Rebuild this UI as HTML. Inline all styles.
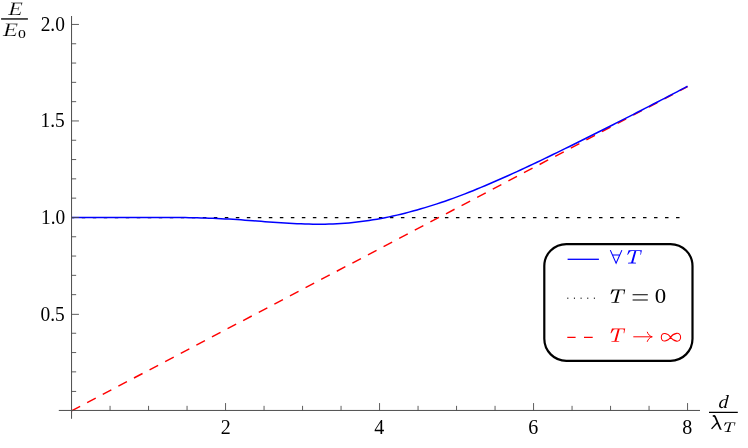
<!DOCTYPE html>
<html><head><meta charset="utf-8"><title>E/E0 vs d/lambda_T</title>
<style>
html,body{margin:0;padding:0;background:#fff;}
body{width:748px;height:448px;overflow:hidden;font-family:"Liberation Serif",serif;}
svg{display:block;}
svg text{font-family:"Liberation Serif",serif;}
</style></head><body>
<svg width="748" height="448" viewBox="0 0 748 448" style="will-change:transform">
<rect width="748" height="448" fill="#fff"/>
<!-- curves -->
<line x1="71.55" y1="217.60" x2="686.75" y2="217.60" stroke="#000" stroke-width="1.3" stroke-dasharray="3.5 7.505" stroke-dashoffset="0.8"/>
<line x1="71.55" y1="410.85" x2="687.55" y2="86.61" stroke="#ff0000" stroke-width="1.45" stroke-dasharray="9.7 7.93"/>
<path d="M71.55,217.50 L165.00,217.50 L169.00,217.51 L173.00,217.51 L177.00,217.53 L181.00,217.56 L185.00,217.60 L189.00,217.67 L193.00,217.76 L197.00,217.86 L201.00,217.96 L205.00,218.07 L209.00,218.21 L213.00,218.36 L217.00,218.52 L221.00,218.70 L225.00,218.90 L229.00,219.12 L233.00,219.35 L237.00,219.60 L241.00,219.86 L245.00,220.14 L249.00,220.43 L253.00,220.72 L257.00,221.02 L261.00,221.33 L265.00,221.63 L269.00,221.94 L273.00,222.23 L277.00,222.52 L281.00,222.79 L285.00,223.05 L289.00,223.29 L293.00,223.51 L297.00,223.70 L301.00,223.87 L305.00,224.01 L309.00,224.12 L313.00,224.19 L317.00,224.22 L321.00,224.22 L325.00,224.17 L329.00,224.08 L333.00,223.94 L337.00,223.75 L341.00,223.52 L345.00,223.23 L349.00,222.90 L353.00,222.51 L357.00,222.08 L361.00,221.60 L365.00,221.07 L369.00,220.49 L373.00,219.86 L377.00,219.18 L381.00,218.46 L385.00,217.69 L389.00,216.87 L393.00,216.01 L397.00,215.11 L401.00,214.16 L405.00,213.17 L409.00,212.13 L413.00,211.06 L417.00,209.94 L421.00,208.79 L425.00,207.61 L429.00,206.40 L433.00,205.15 L437.00,203.86 L441.00,202.54 L445.00,201.18 L449.00,199.78 L453.00,198.36 L457.00,196.90 L461.00,195.40 L465.00,193.85 L469.00,192.28 L473.00,190.68 L477.00,189.05 L481.00,187.40 L485.00,185.72 L489.00,184.01 L493.00,182.29 L497.00,180.55 L501.00,178.78 L505.00,177.00 L509.00,175.20 L513.00,173.39 L517.00,171.56 L521.00,169.72 L525.00,167.86 L529.00,165.99 L533.00,164.11 L537.00,162.22 L541.00,160.31 L545.00,158.40 L549.00,156.47 L553.00,154.54 L557.00,152.59 L561.00,150.64 L565.00,148.68 L569.00,146.71 L573.00,144.74 L577.00,142.76 L581.00,140.77 L585.00,138.78 L589.00,136.79 L593.00,134.79 L597.00,132.78 L601.00,130.78 L605.00,128.76 L609.00,126.75 L613.00,124.73 L617.00,122.70 L621.00,120.68 L625.00,118.64 L629.00,116.60 L633.00,114.56 L637.00,112.52 L641.00,110.46 L645.00,108.41 L649.00,106.35 L653.00,104.28 L657.00,102.21 L661.00,100.14 L665.00,98.06 L669.00,95.98 L673.00,93.89 L677.00,91.79 L681.00,89.69 L685.00,87.59 L687.50,86.27" fill="none" stroke="#0000ff" stroke-width="1.5" stroke-linejoin="round"/>
<!-- axes -->
<g stroke="#4d4d4d" stroke-width="1" fill="none">
<line x1="58.8" y1="410.45" x2="700" y2="410.45"/>
<line x1="71.55" y1="16" x2="71.55" y2="418.8"/>
</g>
<g stroke="#4d4d4d" stroke-width="0.9" fill="none">
<line x1="110.05" y1="410.45" x2="110.05" y2="405.85"/>
<line x1="148.55" y1="410.45" x2="148.55" y2="405.85"/>
<line x1="187.05" y1="410.45" x2="187.05" y2="405.85"/>
<line x1="225.55" y1="410.45" x2="225.55" y2="403.05"/>
<line x1="264.05" y1="410.45" x2="264.05" y2="405.85"/>
<line x1="302.55" y1="410.45" x2="302.55" y2="405.85"/>
<line x1="341.05" y1="410.45" x2="341.05" y2="405.85"/>
<line x1="379.55" y1="410.45" x2="379.55" y2="403.05"/>
<line x1="418.05" y1="410.45" x2="418.05" y2="405.85"/>
<line x1="456.55" y1="410.45" x2="456.55" y2="405.85"/>
<line x1="495.05" y1="410.45" x2="495.05" y2="405.85"/>
<line x1="533.55" y1="410.45" x2="533.55" y2="403.05"/>
<line x1="572.05" y1="410.45" x2="572.05" y2="405.85"/>
<line x1="610.55" y1="410.45" x2="610.55" y2="405.85"/>
<line x1="649.05" y1="410.45" x2="649.05" y2="405.85"/>
<line x1="687.55" y1="410.45" x2="687.55" y2="403.05"/>
<line x1="71.55" y1="391.45" x2="76.15" y2="391.45"/>
<line x1="71.55" y1="371.85" x2="76.15" y2="371.85"/>
<line x1="71.55" y1="352.55" x2="76.15" y2="352.55"/>
<line x1="71.55" y1="333.25" x2="76.15" y2="333.25"/>
<line x1="71.55" y1="314.35" x2="78.95" y2="314.35"/>
<line x1="71.55" y1="294.65" x2="76.15" y2="294.65"/>
<line x1="71.55" y1="275.35" x2="76.15" y2="275.35"/>
<line x1="71.55" y1="256.05" x2="76.15" y2="256.05"/>
<line x1="71.55" y1="236.75" x2="76.15" y2="236.75"/>
<line x1="71.55" y1="217.45" x2="78.95" y2="217.45"/>
<line x1="71.55" y1="198.15" x2="76.15" y2="198.15"/>
<line x1="71.55" y1="178.85" x2="76.15" y2="178.85"/>
<line x1="71.55" y1="159.55" x2="76.15" y2="159.55"/>
<line x1="71.55" y1="140.25" x2="76.15" y2="140.25"/>
<line x1="71.55" y1="120.95" x2="78.95" y2="120.95"/>
<line x1="71.55" y1="101.65" x2="76.15" y2="101.65"/>
<line x1="71.55" y1="82.35" x2="76.15" y2="82.35"/>
<line x1="71.55" y1="63.05" x2="76.15" y2="63.05"/>
<line x1="71.55" y1="43.75" x2="76.15" y2="43.75"/>
<line x1="71.55" y1="24.45" x2="78.95" y2="24.45"/>
</g>
<g font-size="20" fill="#000">
<text transform="translate(64.7,321) scale(0.97,1)" text-anchor="end">0.5</text>
<text transform="translate(65.3,224) scale(0.97,1)" text-anchor="end">1.0</text>
<text transform="translate(64.7,127) scale(0.97,1)" text-anchor="end">1.5</text>
<text transform="translate(64.9,31) scale(0.97,1)" text-anchor="end">2.0</text>
<text x="225.65" y="434" text-anchor="middle">2</text>
<text x="379.15" y="434" text-anchor="middle">4</text>
<text x="533.15" y="434" text-anchor="middle">6</text>
<text x="687.15" y="434" text-anchor="middle">8</text>
</g>
<!-- legend -->
<rect x="544.3" y="244.1" width="148.2" height="116.7" rx="22" ry="22" fill="#fff" stroke="#000" stroke-width="2.2"/>
<line x1="567.6" y1="259.3" x2="598.9" y2="259.3" stroke="#0000ff" stroke-width="1.3"/>
<path d="M610.3,250.1 L616.1,263.3 L621.9,250.1 M612.4,254.9 L619.8,254.9" fill="none" stroke="#0000ff" stroke-width="1.05" stroke-linejoin="miter" stroke-linecap="butt"><title>∀</title></path>
<path transform="translate(627.20,250.20) scale(0.05880,0.05841)" d="M25,0 L250,0 L233,80 L223,80 L229,30 Q230,13 205,13 L155,13 L101,211 L150,215 L148,226 L13,226 L15,215 L67,211 L123,13 L85,13 Q50,13 40,36 L12,80 L0,80 Z" fill="#0000ff"><title>T</title></path>
<rect x="567.25" y="297.65" width="1.1" height="1.1" fill="#000"/><rect x="573.90" y="297.65" width="1.1" height="1.1" fill="#000"/><rect x="580.55" y="297.65" width="1.1" height="1.1" fill="#000"/><rect x="587.20" y="297.65" width="1.1" height="1.1" fill="#000"/><rect x="593.85" y="297.65" width="1.1" height="1.1" fill="#000"/>
<path transform="translate(610.50,289.60) scale(0.05880,0.05841)" d="M25,0 L250,0 L233,80 L223,80 L229,30 Q230,13 205,13 L155,13 L101,211 L150,215 L148,226 L13,226 L15,215 L67,211 L123,13 L85,13 Q50,13 40,36 L12,80 L0,80 Z" fill="#000"><title>T</title></path>
<path d="M632.6,294.7 H647.8 M632.6,299.9 H647.8" stroke="#000" stroke-width="1.05" fill="none"><title>=</title></path>
<text transform="matrix(1.1356,0,0.0000,1,654.83,302.90)" font-size="20.15" fill="#000">0</text>
<path d="M567.3,337.4 H575.6 M584,337.4 H592.7" stroke="#ff0000" stroke-width="1.3" fill="none"/>
<path transform="translate(610.50,328.60) scale(0.05880,0.05841)" d="M25,0 L250,0 L233,80 L223,80 L229,30 Q230,13 205,13 L155,13 L101,211 L150,215 L148,226 L13,226 L15,215 L67,211 L123,13 L85,13 Q50,13 40,36 L12,80 L0,80 Z" fill="#ff0000"><title>T</title></path>
<path d="M633.3,336.8 H651.2 M647.2,331.8 C648.2,334.6 649.8,336.1 652.3,336.8 C649.8,337.5 648.2,339 647.2,341.8" stroke="#ff0000" stroke-width="1.0" fill="none" stroke-linecap="butt" stroke-linejoin="miter"><title>→</title></path>
<path d="M670.6,337.25 C673.2,333.25 680.6,330.95 680.6,337.25 C680.6,343.55 673.2,341.25 670.6,337.25 C668.2,333.35 661.3000000000001,331.15 661.3000000000001,337.25 C661.3000000000001,343.35 668.2,341.15 670.6,337.25 Z" stroke="#ff0000" stroke-width="1.05" fill="none"><title>∞</title></path>
<!-- axis titles -->
<g fill="#000">
<text stroke="#fff" stroke-width="0.22" transform="matrix(1.2255,0,-0.0343,1,8.27,14.80)" font-size="18.94" font-style="italic">E</text>
<text stroke="#fff" stroke-width="0.22" transform="matrix(1.2664,0,-0.0271,1,3.08,35.60)" font-size="19.09" font-style="italic">E</text>
<text transform="matrix(1.2699,0,0.0000,1,17.90,38.38)" font-size="12.45">0</text>
<text transform="matrix(1.0546,0,-0.0644,1,718.31,408.31)" font-size="18.61" font-style="italic">d</text>
<g fill="none" stroke="#000" stroke-linecap="butt"><title>λ</title><path d="M712.95,416.5 Q714.3,415.1 715.25,417.1 L720.2,428.5 Q720.6,429.3 721.3,428.8" stroke-width="1.75"/><path d="M717.15,422.7 L711.55,428.9" stroke-width="1.3"/></g>
<path transform="translate(724.00,422.40) scale(0.04600,0.04204)" d="M25,0 L250,0 L233,80 L223,80 L229,30 Q230,13 205,13 L155,13 L101,211 L150,215 L148,226 L13,226 L15,215 L67,211 L123,13 L85,13 Q50,13 40,36 L12,80 L0,80 Z" fill="#000"><title>T</title></path>
</g>
<line x1="1.1" y1="18.95" x2="27.9" y2="18.95" stroke="#000" stroke-width="1.35"/>
<line x1="709.0" y1="412.38" x2="737.8" y2="412.38" stroke="#000" stroke-width="1.25"/>
</svg>
</body></html>
